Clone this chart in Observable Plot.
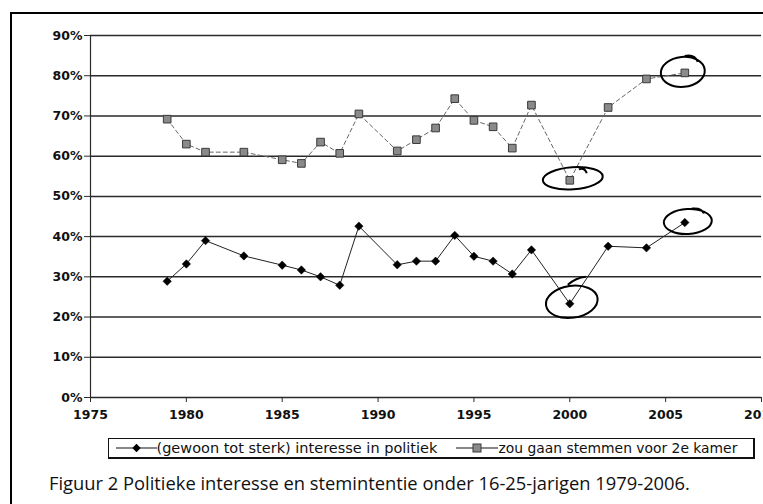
<!DOCTYPE html>
<html>
<head>
<meta charset="utf-8">
<script src="https://cdn.jsdelivr.net/npm/d3@7"></script>
<script src="https://cdn.jsdelivr.net/npm/@observablehq/plot@0.6"></script>
<style>
  html, body { margin: 0; padding: 0; background: #fff; overflow: hidden; width: 763px; height: 504px; }
  #frame { position: absolute; left: 10px; top: 12px; width: 900px; height: 600px; border-left: 2.5px solid #000; border-top: 2.5px solid #000; }
  #chart { position: absolute; left: 0; top: 0; width: 800px; }
  #chart svg { max-width: none !important; }
  #legend { position: absolute; left: 108px; top: 438px; width: 644px; height: 18px; border: 1.5px solid #111; border-bottom-width: 2px; border-right-width: 2px; }
  #legend .cell { position: absolute; top: 0; height: 100%; display: flex; align-items: center; white-space: nowrap;
                  font-family: "DejaVu Sans", sans-serif; font-size: 14px; color: #111; }
  #caption { position: absolute; left: 49px; top: 472px; font-family: "Open Sans", sans-serif; font-size: 17px; line-height: 1; color: #111; white-space: nowrap; }
</style>
</head>
<body>
<div id="frame"></div>
<div id="chart"></div>
<div id="legend"></div>
<div id="caption"></div>
<script>
// ---- data ----
const years = [1979, 1980, 1981, 1983, 1985, 1986, 1987, 1988, 1989, 1991, 1992, 1993, 1994, 1995, 1996, 1997, 1998, 2000, 2002, 2004, 2006];
const interest = [28.9, 33.2, 39.0, 35.2, 32.9, 31.7, 30.0, 27.9, 42.6, 33.0, 33.9, 33.9, 40.3, 35.1, 33.9, 30.7, 36.7, 23.3, 37.6, 37.2, 43.5];
const vote = [69.2, 63.0, 61.0, 61.0, 59.1, 58.2, 63.5, 60.7, 70.5, 61.3, 64.1, 67.0, 74.3, 68.9, 67.3, 62.0, 72.7, 54.0, 72.1, 79.2, 80.7];
const yTicks = [0, 10, 20, 30, 40, 50, 60, 70, 80, 90];
const xTicks = [1975, 1980, 1985, 1990, 1995, 2000, 2005, 2010];
const seriesNames = ["(gewoon tot sterk) interesse in politiek", "zou gaan stemmen voor 2e kamer"];
const captionText = "Figuur 2 Politieke interesse en stemintentie onder 16-25-jarigen 1979-2006.";
const circledYears = [2000, 2006];

const interestData = years.map((y, i) => ({year: y, value: interest[i]}));
const voteData = years.map((y, i) => ({year: y, value: vote[i]}));

// hand-drawn ellipse annotation symbol (with a little pen tail)
function ellipse(rx, ry, rotDeg, tail) {
  const a = rotDeg * Math.PI / 180, c = Math.cos(a), s = Math.sin(a), k = 0.5523;
  const p = (x, y) => [x * c - y * s, x * s + y * c];
  return {
    draw(ctx) {
      const P = [
        [p(rx, 0)],
        [p(rx, ry * k), p(rx * k, ry), p(0, ry)],
        [p(-rx * k, ry), p(-rx, ry * k), p(-rx, 0)],
        [p(-rx, -ry * k), p(-rx * k, -ry), p(0, -ry)],
        [p(rx * k, -ry), p(rx, -ry * k), p(rx, 0)]
      ];
      ctx.moveTo(...P[0][0]);
      for (let i = 1; i < 5; i++) ctx.bezierCurveTo(...P[i][0], ...P[i][1], ...P[i][2]);
      if (tail) {
        ctx.moveTo(tail[0], tail[1]);
        ctx.quadraticCurveTo(tail[2], tail[3], tail[4], tail[5]);
      }
    }
  };
}
const pick = (data, yr) => data.filter(d => d.year === yr);
const ann = {fill: "none", stroke: "#000", strokeWidth: 2, x: "year", y: "value"};

const chart = Plot.plot({
  width: 800,
  height: 425,
  marginLeft: 90,
  marginRight: 39,
  marginTop: 35,
  marginBottom: 28,
  style: {fontFamily: "DejaVu Sans, sans-serif", fontSize: "12.5px", color: "#111", background: "transparent", overflow: "visible", maxWidth: "none"},
  x: {domain: [1975, 2010]},
  y: {domain: [0, 90]},
  marks: [
    Plot.ruleY(yTicks, {stroke: "#2a2a2a", strokeWidth: 1.5}),
    Plot.ruleX([1975], {stroke: "#2a2a2a", strokeWidth: 1.2}),
    Plot.axisY({ticks: yTicks, tickFormat: d => d + "%", tickSize: 6, tickPadding: 2, stroke: "#2a2a2a", label: null, fontWeight: "bold"}),
    Plot.axisX({ticks: xTicks, tickFormat: d => String(d), tickSize: 5, tickPadding: 8, stroke: "#2a2a2a", label: null, fontWeight: "bold"}),
    Plot.line(voteData, {x: "year", y: "value", stroke: "#666", strokeWidth: 1, strokeDasharray: "4,3"}),
    Plot.dot(voteData, {x: "year", y: "value", symbol: "square", r: 4.3, fill: "#8a8a8a", stroke: "#3a3a3a", strokeWidth: 1}),
    Plot.line(interestData, {x: "year", y: "value", stroke: "#222", strokeWidth: 1}),
    Plot.dot(interestData, {x: "year", y: "value", symbol: "diamond2", r: 3.8, fill: "#000", stroke: "#000", strokeWidth: 0.5}),
    // hand-drawn circles around the 2000 and 2006 points
    Plot.dot(pick(voteData, circledYears[0]), {...ann, symbol: ellipse(30, 11, -4, [6, -9, 12, -11, 14, -5]), dx: 3, dy: -2}),
    Plot.dot(pick(voteData, circledYears[1]), {...ann, symbol: ellipse(22, 15, -5, [2, -16, 12, -18, 15, -10]), dx: -2, dy: -1}),
    Plot.dot(pick(interestData, circledYears[0]), {...ann, symbol: ellipse(26, 16, -8, [-4, -17, 4, -24, 14, -25]), dx: 2, dy: -2}),
    Plot.dot(pick(interestData, circledYears[1]), {...ann, symbol: ellipse(24, 12.5, -3, [4, -13, 14, -14, 16, -8]), dx: 3, dy: -1})
  ]
});
document.getElementById("chart").appendChild(chart);

// ---- legend ----
const legend = document.getElementById("legend");
const legendBoxLeft = 108;
const cells = [
  {left: 116, width: 41, kind: "marker", series: 0},
  {left: 157, width: 281, kind: "text", series: 0},
  {left: 456, width: 42, kind: "marker", series: 1},
  {left: 499, width: 239, kind: "text", series: 1}
];
cells.forEach(cell => {
  const div = document.createElement("div");
  div.className = "cell";
  div.style.left = (cell.left - legendBoxLeft - 1.5) + "px";
  legend.appendChild(div);
  if (cell.kind === "marker") {
    const svg = d3.create("svg").attr("width", cell.width).attr("height", 12);
    svg.append("line").attr("x1", 0).attr("x2", cell.width).attr("y1", 6).attr("y2", 6).attr("stroke", "#111").attr("stroke-width", 1.2);
    if (cell.series === 0) {
      svg.append("path").attr("d", d3.symbol(d3.symbolDiamond2, 45)()).attr("transform", `translate(${cell.width / 2},6)`).attr("fill", "#000");
    } else {
      svg.append("rect").attr("x", cell.width / 2 - 4).attr("y", 2).attr("width", 8).attr("height", 8).attr("fill", "#8a8a8a").attr("stroke", "#3a3a3a");
    }
    div.appendChild(svg.node());
  } else {
    const span = document.createElement("span");
    span.textContent = seriesNames[cell.series];
    div.appendChild(span);
    const w = span.getBoundingClientRect().width;
    const fs = parseFloat(getComputedStyle(div).fontSize);
    div.style.fontSize = (fs * cell.width / w) + "px";
  }
});

// ---- caption ----
const cap = document.getElementById("caption");
cap.textContent = captionText;
{
  const target = 641;
  const w = cap.getBoundingClientRect().width;
  const fs = parseFloat(getComputedStyle(cap).fontSize) * target / w;
  cap.style.fontSize = fs + "px";
  cap.style.top = (490 - 0.888 * fs) + "px";
}
</script>
</body>
</html>
